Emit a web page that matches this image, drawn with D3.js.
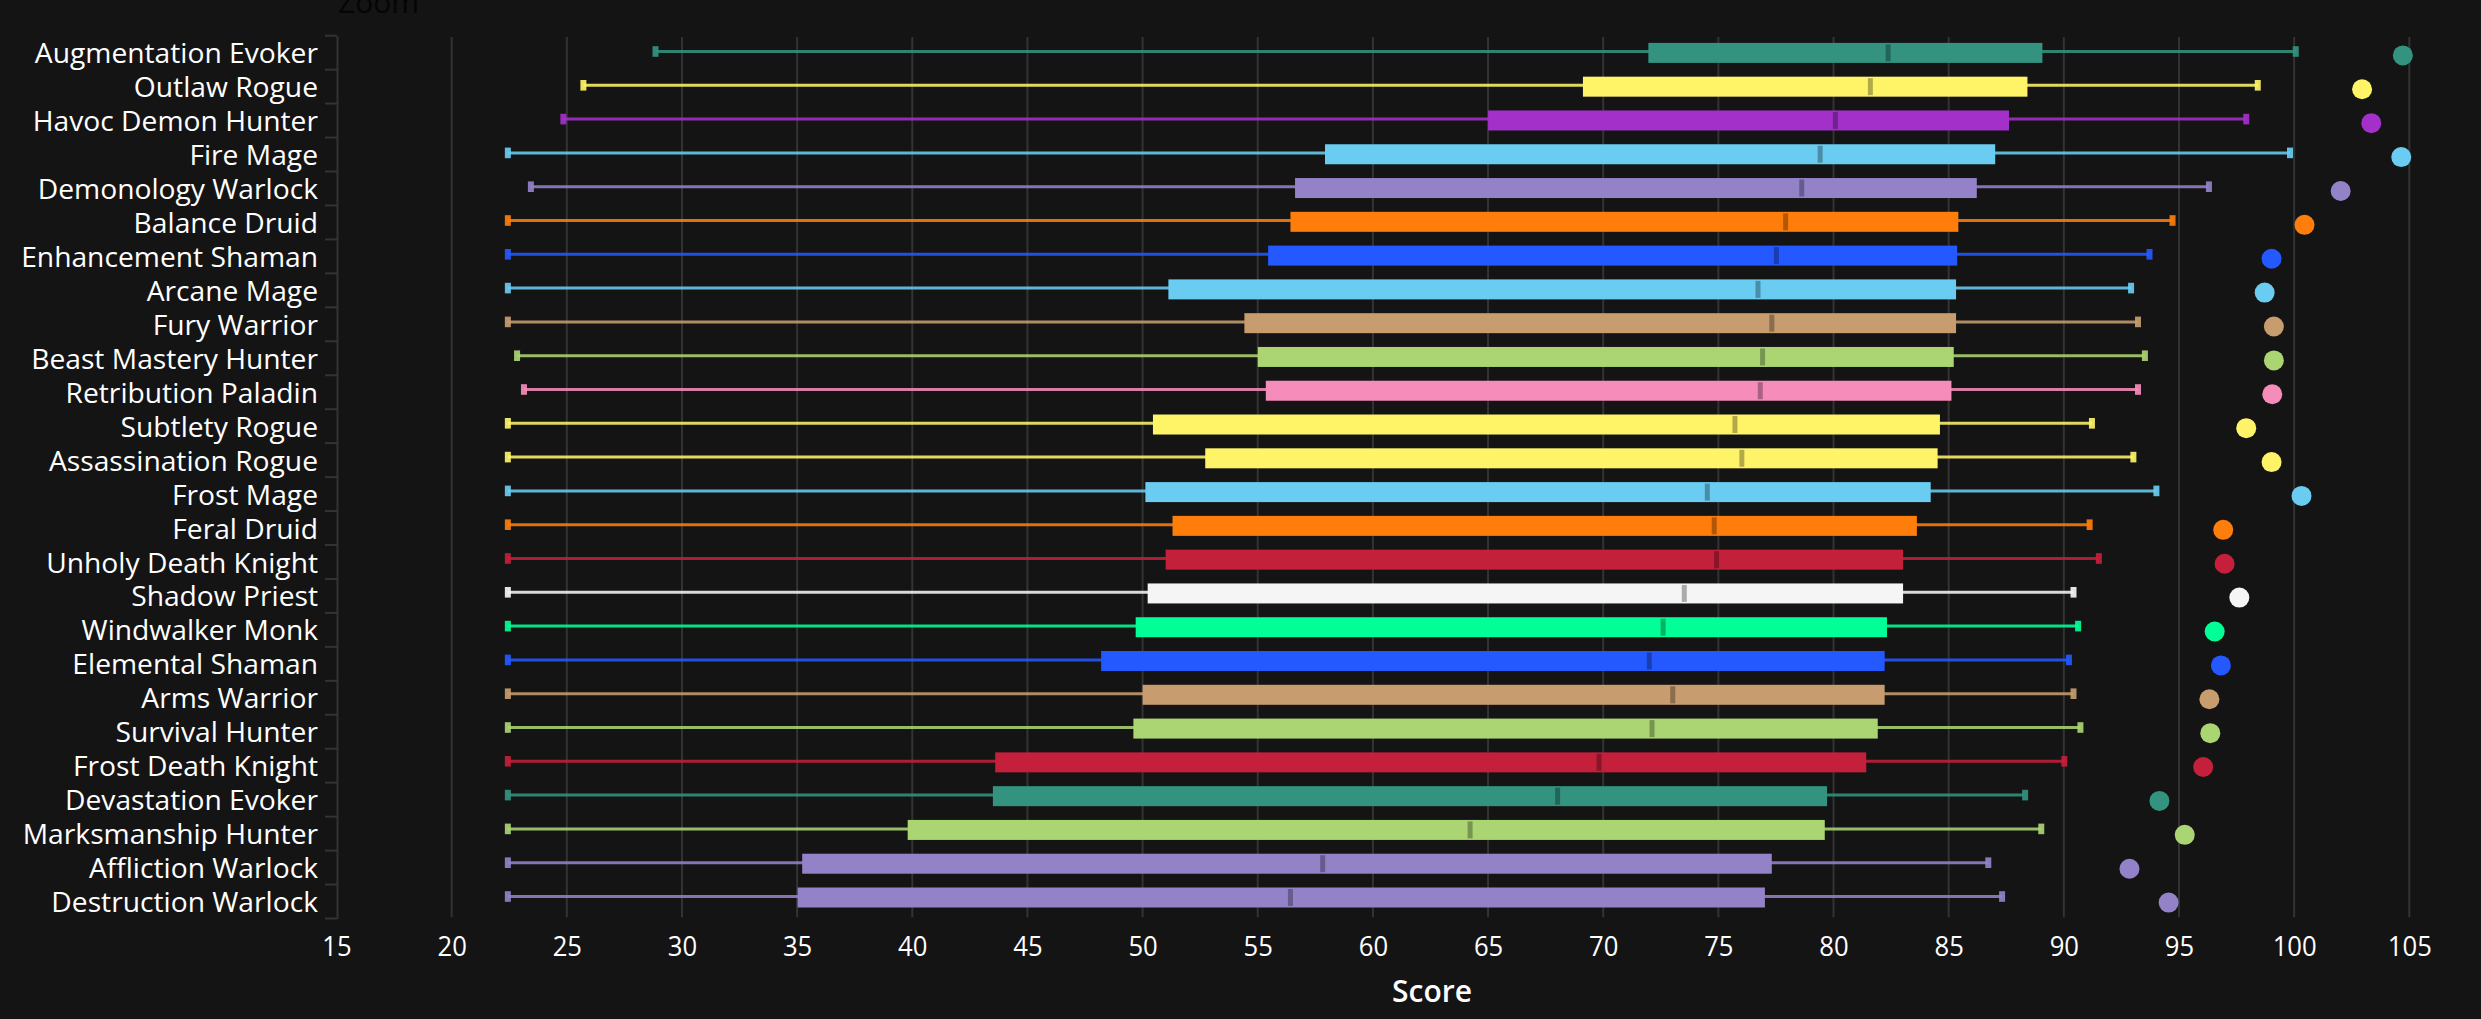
<!DOCTYPE html>
<html><head><meta charset="utf-8">
<style>html,body{margin:0;padding:0;background:#141414;overflow:hidden}svg{display:block}text{font-family:"Open Sans",sans-serif}</style>
<script src="https://cdn.jsdelivr.net/npm/d3@7"></script></head><body>
<svg id="c" width="2481" height="1019"></svg>
<script>
const specs=["Augmentation Evoker","Outlaw Rogue","Havoc Demon Hunter","Fire Mage","Demonology Warlock","Balance Druid","Enhancement Shaman","Arcane Mage","Fury Warrior","Beast Mastery Hunter","Retribution Paladin","Subtlety Rogue","Assassination Rogue","Frost Mage","Feral Druid","Unholy Death Knight","Shadow Priest","Windwalker Monk","Elemental Shaman","Arms Warrior","Survival Hunter","Frost Death Knight","Devastation Evoker","Marksmanship Hunter","Affliction Warlock","Destruction Warlock"];
const low=[28.85,25.72,24.85,22.44,23.44,22.44,22.44,22.44,22.44,22.84,23.14,22.44,22.44,22.44,22.44,22.44,22.44,22.44,22.44,22.44,22.44,22.44,22.44,22.44,22.44,22.44];
const q1=[71.96,69.12,65.0,57.92,56.62,56.42,55.45,51.12,54.42,55.0,55.35,50.45,52.72,50.12,51.3,51.0,50.22,49.7,48.2,50.0,49.6,43.6,43.5,39.8,35.22,35.02];
const median=[82.37,81.6,80.08,79.42,78.62,77.92,77.52,76.72,77.32,76.92,76.82,75.72,76.02,74.52,74.82,74.92,73.52,72.6,72.0,73.02,72.12,69.82,68.02,64.22,57.82,56.42];
const q3=[89.07,88.42,87.62,87.02,86.22,85.42,85.37,85.32,85.32,85.22,85.12,84.62,84.52,84.22,83.62,83.02,83.02,82.32,82.22,82.22,81.92,81.42,79.72,79.62,77.32,77.02];
const high=[100.07,98.42,97.92,99.82,96.3,94.72,93.72,92.92,93.22,93.52,93.22,91.22,93.02,94.02,91.12,91.52,90.42,90.62,90.22,90.42,90.72,90.02,88.32,89.02,86.72,87.32];
const top1=[104.72,102.95,103.35,104.65,102.02,100.45,99.02,98.72,99.12,99.12,99.05,97.92,99.02,100.32,96.92,96.98,97.62,96.55,96.82,96.32,96.36,96.05,94.15,95.25,92.85,94.55];
const classColor={Evoker:"#33937F",Rogue:"#FFF468",Hunter:"#ABD473",Mage:"#69CCF0",Warlock:"#9482C9",Druid:"#FF7D0A",Shaman:"#2459FF",Warrior:"#C79C6E",Paladin:"#F58CBA",Knight:"#C41F3B",Priest:"#F5F5F5",Monk:"#00FF96"};
const colorOf=s=>s==="Havoc Demon Hunter"?"#A330C9":classColor[s.split(" ").pop()];
const xTicks=d3.range(15,106,5);

const svg=d3.select("#c");
const x=d3.scaleLinear().domain([15,105]).range([336.5,2409.3]);
const yBand=d3.scaleBand().domain(specs).range([35.7,918.5]);
const yWhisk=d3.scalePoint().domain(specs).range([51.5,896.5]);
const yBox=d3.scalePoint().domain(specs).range([52.9,897.5]);
const yDot=d3.scalePoint().domain(specs).range([55.4,902.6]);

svg.append("text").attr("x",338).attr("y",13).attr("font-size",30).attr("fill","#050505").text("Zoom");

// grid
svg.append("g").selectAll("line").data(xTicks.slice(1)).join("line")
 .attr("x1",d=>x(d)).attr("x2",d=>x(d)).attr("y1",37).attr("y2",917.3)
 .attr("stroke","#333").attr("stroke-width",2);

// category axis
const axisG=svg.append("g").attr("transform","translate(337,0)").call(d3.axisLeft(yBand).tickSize(0).tickPadding(19));
axisG.select(".domain").attr("stroke","#333").attr("stroke-width",2);
axisG.selectAll("text").attr("font-size",27).attr("fill","#fff").attr("dy","0.39em")
 .attr("textLength",function(){return this.getComputedTextLength()*1.045}).attr("lengthAdjust","spacingAndGlyphs");
svg.append("g").selectAll("line").data([...specs.map(s=>yBand(s)),yBand.range()[1]]).join("line")
 .attr("x1",325).attr("x2",337).attr("y1",d=>d).attr("y2",d=>d).attr("stroke","#333").attr("stroke-width",2);

// value axis
const xAxisG=svg.append("g").attr("transform","translate(0,918)").call(d3.axisBottom(x).tickValues(xTicks).tickSize(0).tickPadding(15));
xAxisG.select(".domain").remove();
xAxisG.selectAll("text").attr("font-size",27).attr("fill","#fff").attr("dy","0.87em")
 .attr("textLength",function(){return this.getComputedTextLength()*0.95}).attr("lengthAdjust","spacingAndGlyphs");
svg.append("text").attr("x",1432).attr("y",1001.5).attr("text-anchor","middle").attr("font-size",30).attr("font-weight",600).attr("fill","#fff").text("Score");

// marks
const rows=svg.append("g").selectAll("g").data(specs).join("g");
rows.append("line").attr("x1",(d,i)=>x(low[i])).attr("x2",(d,i)=>x(high[i])).attr("y1",d=>yWhisk(d)).attr("y2",d=>yWhisk(d))
 .attr("stroke",colorOf).attr("stroke-width",3).attr("stroke-opacity",.88);
for(const v of [low,high]) rows.append("rect").attr("x",(d,i)=>x(v[i])-3).attr("width",6).attr("y",d=>yWhisk(d)-5.3).attr("height",10.6).attr("fill",colorOf).attr("opacity",.92);
rows.append("rect").attr("x",(d,i)=>x(q1[i])).attr("width",(d,i)=>x(q3[i])-x(q1[i])).attr("y",d=>yBox(d)-10).attr("height",20).attr("fill",colorOf);
rows.append("rect").attr("x",(d,i)=>x(median[i])-2.5).attr("width",5).attr("y",d=>yBox(d)-8.5).attr("height",17).attr("fill","#000").attr("opacity",.3);
rows.append("circle").attr("cx",(d,i)=>x(top1[i])).attr("cy",d=>yDot(d)).attr("r",10).attr("fill",colorOf);
</script></body></html>
